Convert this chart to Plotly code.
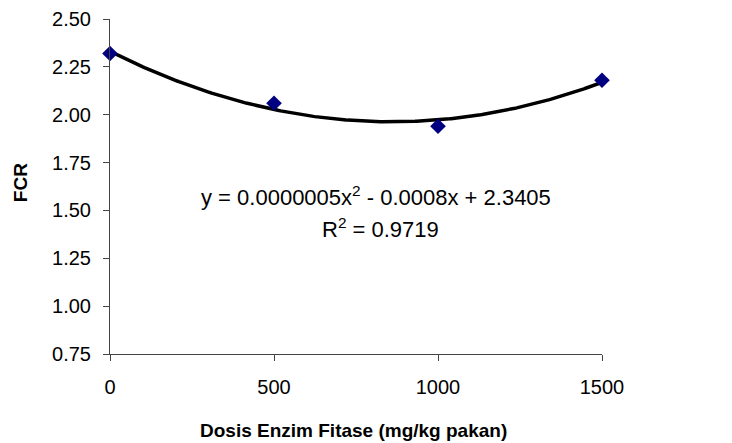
import numpy as np
import plotly.graph_objects as go

dose = [0, 500, 1000, 1500]
fcr = [2.32, 2.06, 1.94, 2.18]
x_ticks = [0, 500, 1000, 1500]
y_ticks = [0.75, 1.00, 1.25, 1.50, 1.75, 2.00, 2.25, 2.50]
eq_text = "y = 0.0000005x<sup>2</sup> - 0.0008x + 2.3405"
r2_text = "R<sup>2</sup> = 0.9719"
x_title = "<b>Dosis Enzim Fitase (mg/kg pakan)</b>"
y_title = "<b>FCR</b>"

coef = np.polyfit(dose, fcr, 2)
xs = np.linspace(min(dose), max(dose), 301)
ys = np.polyval(coef, xs)

FONT = "Liberation Sans, Arial, sans-serif"

fig = go.Figure()
fig.add_trace(go.Scatter(x=xs, y=ys, mode="lines",
                         line=dict(color="black", width=3.5), showlegend=False))
fig.add_trace(go.Scatter(x=dose, y=fcr, mode="markers",
                         marker=dict(symbol="diamond", size=12, color="#000080"),
                         showlegend=False, cliponaxis=False))

fig.add_annotation(x=0.541, y=0.472, xref="paper", yref="paper", text=eq_text,
                   showarrow=False, font=dict(family=FONT, size=22, color="black"),
                   xanchor="center", yanchor="middle")
fig.add_annotation(x=0.549, y=0.376, xref="paper", yref="paper", text=r2_text,
                   showarrow=False, font=dict(family=FONT, size=22, color="black"),
                   xanchor="center", yanchor="middle")
fig.add_annotation(x=0.494, y=0, xref="paper", yref="paper", text=x_title,
                   showarrow=False, font=dict(family=FONT, size=19, color="black"),
                   xanchor="center", yanchor="middle", yshift=-76)
fig.add_annotation(x=0, y=0.51, xref="paper", yref="paper", text=y_title,
                   showarrow=False, font=dict(family=FONT, size=19, color="black"),
                   xanchor="center", yanchor="middle", xshift=-90, textangle=-90)

fig.update_layout(
    width=724, height=435,
    margin=dict(l=102, r=130, t=11, b=89),
    paper_bgcolor="white", plot_bgcolor="white",
    font=dict(family=FONT, size=20, color="black"),
    xaxis=dict(range=[0, 1500], tickvals=x_ticks, ticktext=[str(v) for v in x_ticks],
               showgrid=False, zeroline=False, showline=True, linecolor="#444",
               linewidth=1, ticks="outside", ticklen=6, tickcolor="#444",
               ticklabelstandoff=9, automargin=False),
    yaxis=dict(range=[0.75, 2.5], tickvals=y_ticks,
               ticktext=[f"{v:.2f}" for v in y_ticks],
               showgrid=False, zeroline=False, showline=True, linecolor="#444",
               linewidth=1, ticks="outside", ticklen=6, tickcolor="#444",
               ticklabelstandoff=8, automargin=False),
)

fig.write_html("out.html")
